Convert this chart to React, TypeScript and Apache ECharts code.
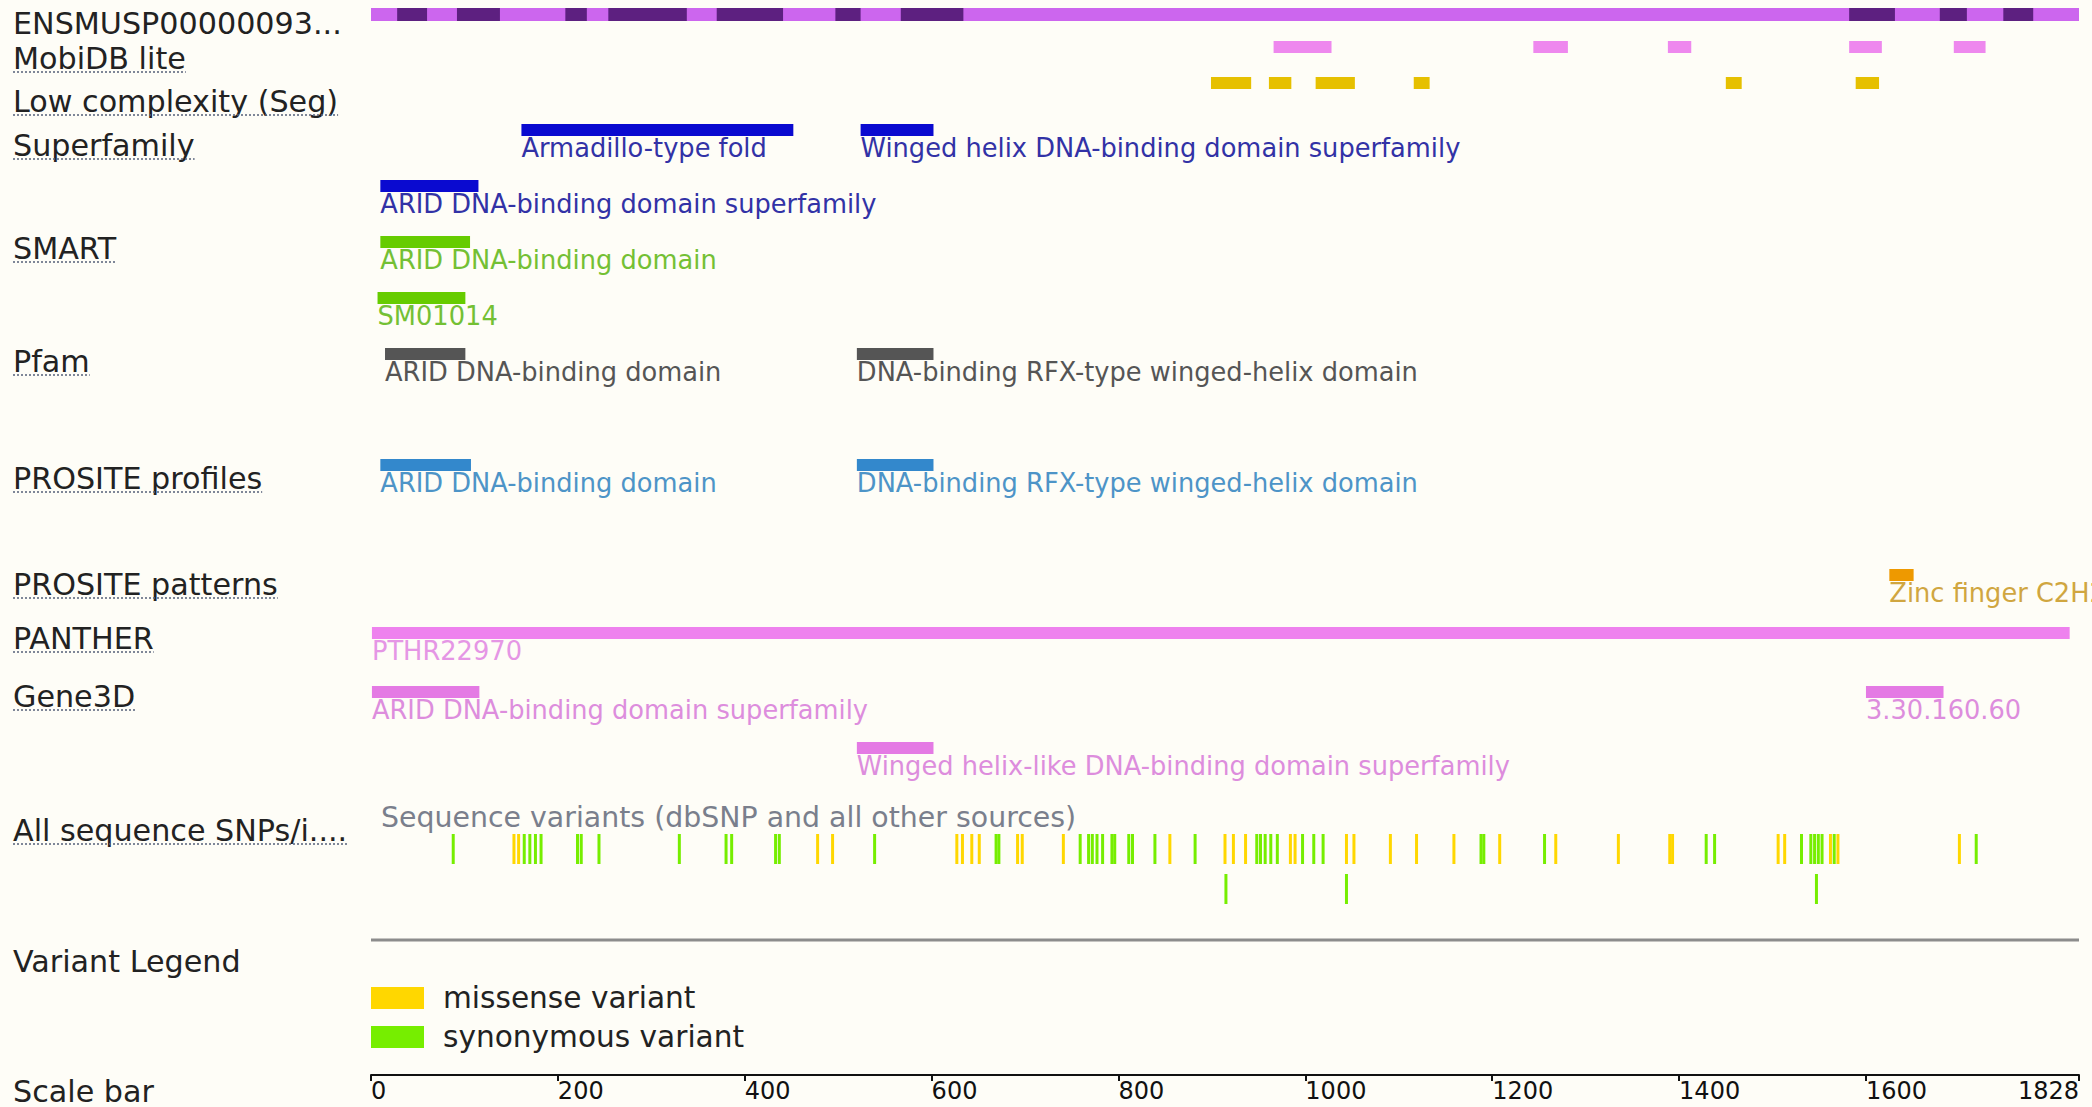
import React, { useEffect, useRef } from "react";
import * as echarts from "echarts";

// ---------------- DATA ----------------
const proteinLength = 1828;
const proteinLabel = "ENSMUSP00000093...";
const exonDarkSegments: [number, number][] = [
  [28, 60], [92, 138], [208, 231], [254, 338], [370, 441], [497, 524], [567, 634],
  [1582, 1631], [1679, 1708], [1747, 1779],
];
const mobidbRegions: [number, number][] = [
  [966, 1028], [1244, 1281], [1388, 1413], [1582, 1617], [1694, 1728],
];
const lowComplexityRegions: [number, number][] = [
  [899, 942], [961, 985], [1011, 1053], [1116, 1133], [1450, 1467], [1589, 1614],
];
// [start, end, name, row]
const superfamilyDomains: [number, number, string, number][] = [
  [161, 452, "Armadillo-type fold", 0],
  [524, 602, "Winged helix DNA-binding domain superfamily", 0],
  [10, 115, "ARID DNA-binding domain superfamily", 1],
];
const smartDomains: [number, number, string, number][] = [
  [10, 106, "ARID DNA-binding domain", 0],
  [7, 101, "SM01014", 1],
];
const pfamDomains: [number, number, string, number][] = [
  [15, 101, "ARID DNA-binding domain", 0],
  [520, 602, "DNA-binding RFX-type winged-helix domain", 0],
];
const prositeProfileDomains: [number, number, string, number][] = [
  [10, 107, "ARID DNA-binding domain", 0],
  [520, 602, "DNA-binding RFX-type winged-helix domain", 0],
];
const prositePatternDomains: [number, number, string, number][] = [
  [1625, 1651, "Zinc finger C2H2-type", 0],
];
const pantherDomains: [number, number, string, number][] = [
  [1, 1818, "PTHR22970", 0],
];
const gene3dDomains: [number, number, string, number][] = [
  [1, 116, "ARID DNA-binding domain superfamily", 0],
  [1600, 1683, "3.30.160.60", 0],
  [520, 602, "Winged helix-like DNA-binding domain superfamily", 1],
];
// SNP positions, by consequence, upper row
const missenseVariants = [
  153, 158, 478, 494, 627, 633, 643, 651, 692, 697, 741, 855, 914, 923, 936, 984, 989,
  1044, 1052, 1091, 1119, 1159, 1208, 1268, 1335, 1390, 1393, 1506, 1513, 1562, 1570, 1700,
];
const synonymousVariants = [
  88, 164, 170, 176, 182, 221, 225, 244, 330, 380, 386, 433, 437, 539, 669, 672, 759,
  768, 772, 777, 783, 793, 796, 811, 815, 839, 882, 948, 952, 957, 963, 970, 997, 1009,
  1019, 1188, 1191, 1256, 1429, 1438, 1531, 1541, 1545, 1549, 1553, 1566, 1718,
];
// SNPs in the second (lower) row
const synonymousVariantsRow2 = [915, 1044, 1547];
const scaleTicks = [0, 200, 400, 600, 800, 1000, 1200, 1400, 1600, 1828];
const trackNames = [
  "MobiDB lite", "Low complexity (Seg)", "Superfamily", "SMART", "Pfam",
  "PROSITE profiles", "PROSITE patterns", "PANTHER", "Gene3D", "All sequence SNPs/i....",
];
const variantSourceText = "Sequence variants (dbSNP and all other sources)";
const legendNames = ["missense variant", "synonymous variant"];

// ---------------- LAYOUT / STYLE ----------------
const FONT = "'DejaVu Sans', Verdana, sans-serif";
const W = 2092;
const H = 1107;
const GRID_LEFT = 371;
const GRID_RIGHT = 13;
const AXIS_Y = 1075;
const BG = "#fefdf7";
const LABEL_SIZE = 30.2;
const FEATURE_TEXT_SIZE = 25.7;
const BAR_H = 12;
const ROW_GAP = 56;

const trackLabelY = [58, 101, 145, 248, 361, 478, 584, 638, 696, 830];

function textWidth(text: string, size: number): number {
  const ctx = document.createElement("canvas").getContext("2d");
  if (!ctx) return text.length * size * 0.6;
  ctx.font = `${size}px 'DejaVu Sans'`;
  return ctx.measureText(text).width;
}

function regionSeries(regions: [number, number][], top: number, height: number, color: string, z = 2) {
  return {
    type: "custom",
    coordinateSystem: "cartesian2d",
    silent: true,
    clip: false,
    z,
    encode: { x: [0, 1], y: 2 },
    data: regions.map((r) => [r[0], r[1], 0]),
    renderItem: (params: any, api: any) => {
      const a = api.coord([api.value(0), 0]);
      const b = api.coord([api.value(1), 0]);
      return {
        type: "rect",
        shape: { x: a[0], y: top, width: b[0] - a[0], height },
        style: { fill: color },
      };
    },
  };
}

function domainSeries(
  items: [number, number, string, number][],
  top: number,
  barColor: string,
  textColor: string
) {
  return {
    type: "custom",
    coordinateSystem: "cartesian2d",
    silent: true,
    clip: false,
    encode: { x: [0, 1], y: 2 },
    data: items.map((d) => [d[0], d[1], 0]),
    renderItem: (params: any, api: any) => {
      const d = items[params.dataIndex];
      const a = api.coord([api.value(0), 0]);
      const b = api.coord([api.value(1), 0]);
      const y = top + d[3] * ROW_GAP;
      return {
        type: "group",
        children: [
          {
            type: "rect",
            shape: { x: a[0], y, width: b[0] - a[0], height: BAR_H },
            style: { fill: barColor },
          },
          {
            type: "text",
            x: a[0],
            y: y + BAR_H + 12,
            style: {
              text: d[2],
              fill: textColor,
              fontSize: FEATURE_TEXT_SIZE,
              fontFamily: FONT,
              align: "left",
              verticalAlign: "middle",
            },
          },
        ],
      };
    },
  };
}

function snpSeries(name: string, positions: number[], top: number, color: string) {
  return {
    name,
    type: "custom",
    coordinateSystem: "cartesian2d",
    silent: true,
    clip: false,
    itemStyle: { color },
    encode: { x: 0, y: 1 },
    data: positions.map((p) => [p, 0]),
    renderItem: (params: any, api: any) => {
      const a = api.coord([api.value(0), 0]);
      return {
        type: "rect",
        shape: { x: a[0] - 1.5, y: top, width: 3, height: 30 },
        style: { fill: color },
      };
    },
  };
}

export default function App() {
  const ref = useRef<HTMLDivElement>(null);

  useEffect(() => {
    if (!ref.current) return;
    const chart = echarts.init(ref.current, undefined, { renderer: "svg" });

    const graphics: any[] = [];
    // left labels
    graphics.push({
      type: "text",
      x: 13,
      y: 23,
      style: { text: proteinLabel, fill: "#222", fontSize: LABEL_SIZE, fontFamily: FONT, verticalAlign: "middle" },
    });
    trackNames.forEach((name, i) => {
      const cy = trackLabelY[i];
      graphics.push({
        type: "text",
        x: 13,
        y: cy,
        style: { text: name, fill: "#222", fontSize: LABEL_SIZE, fontFamily: FONT, verticalAlign: "middle" },
      });
      graphics.push({
        type: "line",
        shape: { x1: 13, y1: cy + 14, x2: 13 + textWidth(name, LABEL_SIZE), y2: cy + 14 },
        style: { stroke: "#56607a", lineWidth: 1.5, lineDash: [2, 2] },
      });
    });
    graphics.push({
      type: "text",
      x: 13,
      y: 961,
      style: { text: "Variant Legend", fill: "#222", fontSize: LABEL_SIZE, fontFamily: FONT, verticalAlign: "middle" },
    });
    graphics.push({
      type: "text",
      x: 13,
      y: 1091,
      style: { text: "Scale bar", fill: "#222", fontSize: LABEL_SIZE, fontFamily: FONT, verticalAlign: "middle" },
    });
    graphics.push({
      type: "text",
      x: 381,
      y: 817,
      style: { text: variantSourceText, fill: "#7a7f8c", fontSize: 28.4, fontFamily: FONT, verticalAlign: "middle" },
    });
    graphics.push({
      type: "line",
      shape: { x1: GRID_LEFT, y1: 940, x2: W - GRID_RIGHT, y2: 940 },
      style: { stroke: "#8c8c8c", lineWidth: 3 },
    });

    const option: any = {
      animation: false,
      backgroundColor: BG,
      grid: { left: GRID_LEFT, right: GRID_RIGHT, top: 0, bottom: H - AXIS_Y },
      xAxis: {
        type: "value",
        min: 0,
        max: proteinLength,
        position: "bottom",
        splitLine: { show: false },
        axisLine: { show: true, lineStyle: { color: "#111", width: 2 } },
        axisTick: {
          show: true,
          length: 6,
          customValues: scaleTicks,
          lineStyle: { color: "#111", width: 2 },
        },
        axisLabel: {
          customValues: scaleTicks,
          formatter: (v: number) => String(v),
          margin: 4,
          align: "left",
          alignMaxLabel: "right",
          fontSize: 24,
          fontFamily: FONT,
          color: "#111",
        },
      },
      yAxis: { type: "value", min: 0, max: 1, show: false },
      legend: {
        data: legendNames,
        orient: "vertical",
        left: GRID_LEFT,
        top: 983,
        icon: "rect",
        itemWidth: 53,
        itemHeight: 22,
        itemGap: 9,
        selectedMode: false,
        padding: 0,
        textStyle: {
          fontSize: 29.6,
          fontFamily: FONT,
          color: "#222",
          padding: [0, 0, 0, 14],
        },
      },
      graphic: graphics,
      series: [
        regionSeries([[0, proteinLength]], 8, 13, "#cc66ee", 2),
        regionSeries(exonDarkSegments, 8, 13, "#5d2080", 3),
        regionSeries(mobidbRegions, 41, BAR_H, "#ee88ee"),
        regionSeries(lowComplexityRegions, 77, BAR_H, "#e6c000"),
        domainSeries(superfamilyDomains, 124, "#0a0ad0", "#3232a6"),
        domainSeries(smartDomains, 236, "#66cc00", "#74c034"),
        domainSeries(pfamDomains, 348, "#555555", "#555555"),
        domainSeries(prositeProfileDomains, 459, "#3388cc", "#4d94c7"),
        domainSeries(prositePatternDomains, 569, "#ee9900", "#d0a640"),
        domainSeries(pantherDomains, 627, "#ee82ee", "#e596e5"),
        domainSeries(gene3dDomains, 686, "#e47ae4", "#dd8ddd"),
        snpSeries(legendNames[0], missenseVariants, 834, "#ffd700"),
        snpSeries(legendNames[1], synonymousVariants, 834, "#76ee00"),
        snpSeries(legendNames[1], synonymousVariantsRow2, 874, "#76ee00"),
      ],
    };
    chart.setOption(option);
    return () => chart.dispose();
  }, []);

  return (
    <div
      ref={ref}
      style={{ position: "absolute", left: 0, top: 0, width: W, height: H, background: BG }}
    />
  );
}
